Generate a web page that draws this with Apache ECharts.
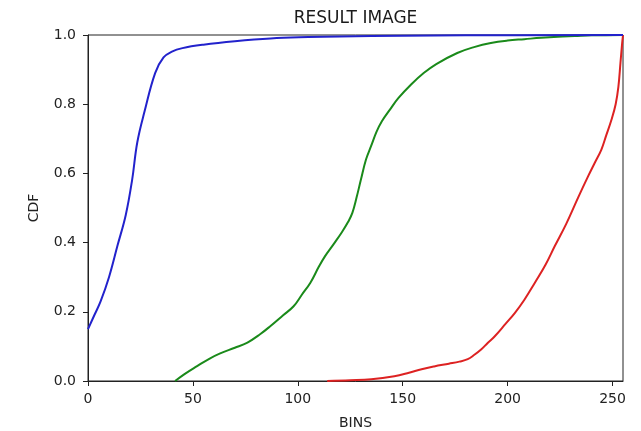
<!DOCTYPE html>
<html>
<head>
<meta charset="utf-8">
<script src="https://cdn.jsdelivr.net/npm/echarts@6/dist/echarts.min.js"></script>
<style>html,body{margin:0;padding:0;background:#fff;}#c{width:641px;height:431px;}</style>
</head>
<body>
<div id="c"></div>
<script>
const title = 'RESULT IMAGE';
const xName = 'BINS';
const yName = 'CDF';

const blueX = [0, 3, 6, 10, 14, 18, 21, 23.5, 27, 32, 36, 40, 45, 55, 70, 87, 105, 120, 150, 180, 255];
const blueY = [0.15, 0.19, 0.23, 0.30, 0.39, 0.48, 0.58, 0.69, 0.78, 0.89, 0.935, 0.952, 0.962, 0.972, 0.982, 0.99, 0.994, 0.996, 0.998, 0.999, 1.0];

const greenX = [41.5, 46, 52, 58, 63, 70, 76, 82, 87, 93, 98, 102, 106, 110, 113, 117, 121, 124, 126, 128, 130, 132.5, 135, 137.5, 140, 144, 148, 154, 160, 166, 176, 184, 192, 200, 208, 216, 224, 232, 240, 255];
const greenY = [0, 0.02, 0.043, 0.065, 0.08, 0.096, 0.111, 0.135, 0.159, 0.19, 0.216, 0.25, 0.284, 0.33, 0.361, 0.395, 0.43, 0.46, 0.486, 0.53, 0.58, 0.64, 0.68, 0.72, 0.75, 0.785, 0.818, 0.857, 0.89, 0.916, 0.948, 0.965, 0.977, 0.984, 0.988, 0.992, 0.995, 0.997, 0.999, 1.0];

const redX = [114, 125, 135, 146, 153, 159, 165, 172, 177, 181, 184, 187.5, 190.5, 194, 199, 203.5, 208, 213, 218, 222.5, 228, 233.6, 238.4, 241.5, 244.7, 247, 249.5, 251.5, 252.8, 253.8, 254.5, 255];
const redY = [0, 0.002, 0.005, 0.014, 0.024, 0.034, 0.042, 0.05, 0.056, 0.063, 0.075, 0.092, 0.11, 0.13, 0.165, 0.197, 0.235, 0.284, 0.335, 0.39, 0.455, 0.53, 0.592, 0.63, 0.669, 0.71, 0.755, 0.80, 0.85, 0.92, 0.97, 1.0];

const xTicks = [0, 50, 100, 150, 200, 250];
const yTicks = [0.0, 0.2, 0.4, 0.6, 0.8, 1.0];

function pairs(xs, ys) { return xs.map((x, i) => [x, ys[i]]); }

const font = 'DejaVu Sans';
const chart = echarts.init(document.getElementById('c'), null, {renderer: 'canvas'});
chart.setOption({
  animation: false,
  backgroundColor: '#fff',
  title: {
    text: title, left: 355.5, top: 10, textAlign: 'center', padding: 0,
    textStyle: {fontFamily: font, fontSize: 17, fontWeight: 'normal', color: '#1a1a1a'}
  },
  grid: {left: 88, right: 18, top: 35, bottom: 50, containLabel: false, outerBoundsMode: 'none',
    show: true, borderColor: '#222', borderWidth: 1, backgroundColor: 'transparent'},
  xAxis: {
    type: 'value', min: 0, max: 255, interval: 50,
    name: xName, nameLocation: 'middle', nameGap: 35,
    nameTextStyle: {fontFamily: font, fontSize: 14, color: '#222'},
    axisLine: {show: true, onZero: false, lineStyle: {color: '#222', width: 1}},
    axisTick: {show: true, length: 5, lineStyle: {color: '#222'}},
    axisLabel: {fontFamily: font, fontSize: 14, color: '#222', margin: 11, showMaxLabel: false,
      formatter: v => xTicks.includes(v) ? String(v) : ''},
    splitLine: {show: false}
  },
  yAxis: {
    type: 'value', min: 0, max: 1, interval: 0.2,
    name: yName, nameLocation: 'middle', nameGap: 47, nameRotate: 90,
    nameTextStyle: {fontFamily: font, fontSize: 14, color: '#222'},
    axisLine: {show: true, onZero: false, lineStyle: {color: '#222', width: 1}},
    axisTick: {show: true, length: 5, lineStyle: {color: '#222'}},
    axisLabel: {fontFamily: font, fontSize: 14, color: '#222', margin: 12,
      formatter: v => { const t = yTicks.find(y => Math.abs(y - v) < 1e-9); return t === undefined ? '' : t.toFixed(1); }},
    splitLine: {show: false}
  },
  series: [
    {type: 'line', data: pairs(redX, redY), showSymbol: false, smooth: 0.4, lineStyle: {color: '#dd2222', width: 2}, itemStyle: {color: '#dd2222'}, z: 2},
    {type: 'line', data: pairs(greenX, greenY), showSymbol: false, smooth: 0.4, lineStyle: {color: '#1a8a1a', width: 2}, itemStyle: {color: '#1a8a1a'}, z: 3},
    {type: 'line', data: pairs(blueX, blueY), showSymbol: false, smooth: 0.4, lineStyle: {color: '#2222cc', width: 2}, itemStyle: {color: '#2222cc'}, z: 4}
  ]
});
</script>
</body>
</html>
